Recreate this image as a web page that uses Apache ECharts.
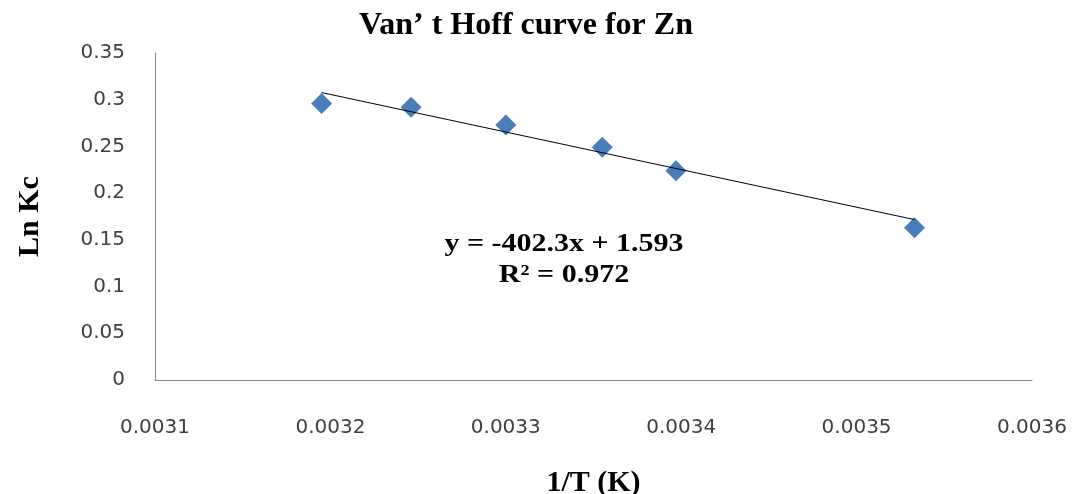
<!DOCTYPE html>
<html lang="en">
<head>
    <meta charset="UTF-8">
    <title>Van't Hoff curve for Zn</title>
    <script src="https://cdn.jsdelivr.net/npm/echarts@6/dist/echarts.min.js"></script>
    <style>
        html, body { margin: 0; padding: 0; background: #fff; }
        #main { width: 1077px; height: 494px; }
    </style>
</head>
<body>
    <div id="main"></div>
    <script>
        // Measured points (1/T, ln Kc)
        const invT = [0.003195, 0.003246, 0.003300, 0.003355, 0.003397, 0.003533];
        const lnKc = [0.296, 0.292, 0.273, 0.249, 0.224, 0.163];

        // Linear fit shown on the chart
        const slope = -402.3;
        const intercept = 1.593;
        const r2 = 0.972;

        const points = invT.map((x, i) => [x, lnKc[i]]);
        const xMin = Math.min(...invT);
        const xMax = Math.max(...invT);
        const trend = [xMin, xMax].map(x => [x, slope * x + intercept]);

        const serif = '"Liberation Serif", "DejaVu Serif", serif';
        const sans = '"DejaVu Sans", "Open Sans", sans-serif';

        const chart = echarts.init(document.getElementById('main'));
        chart.setOption({
            animation: false,
            title: {
                text: 'Van\u2019 t Hoff curve for Zn',
                left: 521,
                top: 5,
                textAlign: 'center',
                textStyle: { fontFamily: serif, fontWeight: 'bold', fontSize: 32, color: '#000' }
            },
            grid: { left: 155, right: 45, top: 53, bottom: 114, outerBoundsMode: 'none', containLabel: false },
            xAxis: {
                type: 'value',
                min: 0.0031,
                max: 0.0036,
                interval: 0.0001,
                name: '1/T (K)',
                nameLocation: 'middle',
                nameGap: 88,
                nameTextStyle: { fontFamily: serif, fontWeight: 'bold', fontSize: 30, color: '#000' },
                axisLine: { lineStyle: { color: '#868686', width: 1 } },
                axisTick: { show: false },
                splitLine: { show: false },
                axisLabel: {
                    margin: 38,
                    fontFamily: sans,
                    fontSize: 20,
                    color: '#404040',
                    formatter: v => v.toFixed(4)
                }
            },
            yAxis: {
                type: 'value',
                min: 0,
                max: 0.35,
                interval: 0.05,
                name: 'Ln Kc',
                nameLocation: 'middle',
                nameGap: 110,
                nameTextStyle: { fontFamily: serif, fontWeight: 'bold', fontSize: 30, color: '#000' },
                axisLine: { show: true, lineStyle: { color: '#868686', width: 1 } },
                axisTick: { show: false },
                splitLine: { show: false },
                axisLabel: {
                    margin: 30,
                    fontFamily: sans,
                    fontSize: 20,
                    color: '#404040',
                    formatter: v => String(+v.toFixed(2))
                }
            },
            graphic: [
                {
                    type: 'text',
                    x: 564,
                    y: 229,
                    scaleX: 1.2,
                    style: {
                        text: 'y = ' + slope + 'x + ' + intercept + '\nR\u00b2 = ' + r2,
                        align: 'center',
                        font: 'bold 25px ' + serif,
                        fill: '#000',
                        lineHeight: 31
                    }
                }
            ],
            series: [
                {
                    type: 'line',
                    data: trend,
                    showSymbol: false,
                    lineStyle: { color: '#000', width: 1 },
                    z: 3
                },
                {
                    type: 'scatter',
                    data: points,
                    symbol: 'diamond',
                    symbolSize: [21, 21],
                    itemStyle: { color: '#4a7ebb', opacity: 1 },
                    z: 2
                }
            ]
        });
    </script>
</body>
</html>
